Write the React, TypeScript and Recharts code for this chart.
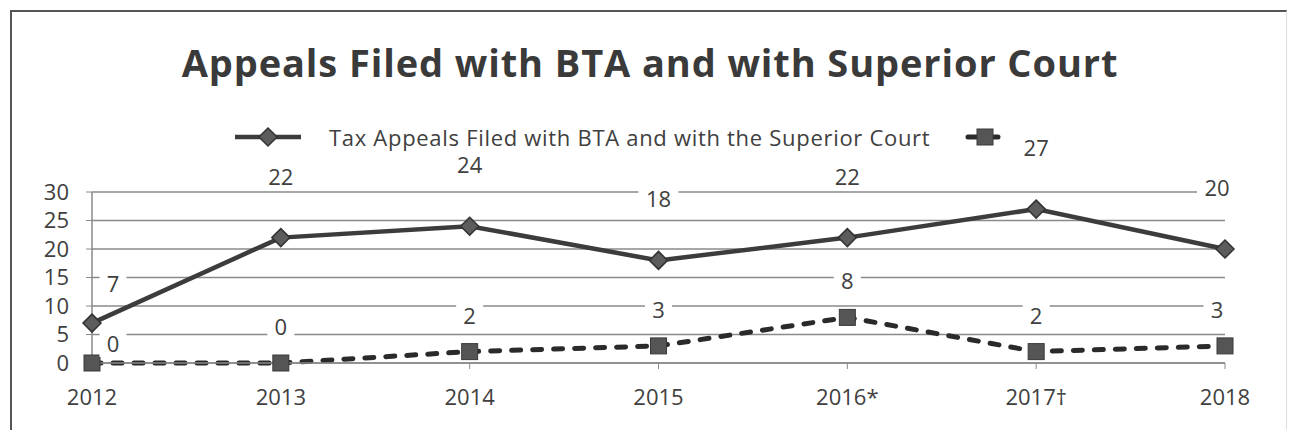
import { CartesianGrid, LabelList, Line, LineChart, XAxis, YAxis } from "recharts";

const years = ["2012", "2013", "2014", "2015", "2016*", "2017†", "2018"];
const btaAppeals = [7, 22, 24, 18, 22, 27, 20];
const superiorCourt = [0, 0, 2, 3, 8, 2, 3];
const yTicks = [0, 5, 10, 15, 20, 25, 30];
const seriesNames = ["Tax Appeals Filed with BTA and with the Superior Court", ""];
const title = "Appeals Filed with BTA and with Superior Court";

const FONT = "'Open Sans', Lato, sans-serif";
const TEXT = "#404040";

const data = years.map((year, i) => ({
  year,
  bta: btaAppeals[i],
  court: superiorCourt[i],
}));

function Diamond(props: any) {
  const { cx, cy, index } = props;
  if (cx == null || cy == null) return <g key={`d-${index}`} />;
  return (
    <path
      key={`d-${index}`}
      d={`M${cx} ${cy - 9}L${cx + 9} ${cy}L${cx} ${cy + 9}L${cx - 9} ${cy}Z`}
      fill="#5c5c5c"
      stroke="#333"
      strokeWidth={1.5}
    />
  );
}

function Square(props: any) {
  const { cx, cy, index } = props;
  if (cx == null || cy == null) return <g key={`s-${index}`} />;
  return (
    <rect key={`s-${index}`} x={cx - 8} y={cy - 8} width={16} height={16} fill="#555" stroke="#3a3a3a" strokeWidth={1} />
  );
}

// white-boxed data label, like Excel's
function makeLabel(offset: number, firstOffset: number) {
  return (props: any) => {
    const { x, y, value, index } = props;
    const first = index === 0;
    const cx = Number(x) + (first ? 21 : index === years.length - 1 ? -8 : 0);
    const cy = Number(y) - (first ? firstOffset : offset);
    const w = String(value).length * 13 + 14;
    return (
      <g>
        <rect x={cx - w / 2} y={cy - 14} width={w} height={28} fill="#fff" />
        <text
          x={cx}
          y={cy}
          textAnchor="middle"
          dominantBaseline="central"
          fontFamily={FONT}
          fontSize={22}
          fill={TEXT}
        >
          {value}
        </text>
      </g>
    );
  };
}

export default function App() {
  return (
    <div
      style={{
        position: "fixed",
        top: 0,
        left: 0,
        width: 1290,
        height: 430,
        background: "#fff",
        fontFamily: FONT,
        overflow: "hidden",
      }}
    >
      <div
        style={{
          position: "absolute",
          left: 10,
          top: 10,
          width: 1274,
          height: 440,
          borderTop: "2px solid #555",
          borderLeft: "2px solid #555",
          borderRight: "1px solid #ddd",
        }}
      />
      <div
        style={{
          position: "absolute",
          top: 38,
          left: 5,
          width: 1290,
          textAlign: "center",
          fontSize: 38,
          fontWeight: 700,
          letterSpacing: 0.9,
          color: "#3a3a3a",
          lineHeight: "48px",
          whiteSpace: "nowrap",
        }}
      >
        {title}
      </div>
      <div
        style={{
          position: "absolute",
          top: 122,
          left: 233,
          height: 30,
          display: "flex",
          alignItems: "center",
          fontSize: 22,
          letterSpacing: 0.7,
          color: TEXT,
          whiteSpace: "nowrap",
        }}
      >
        <svg width={70} height={30}>
          <line x1={2} y1={15} x2={68} y2={15} stroke="#3c3c3c" strokeWidth={4.5} />
          <Diamond cx={35} cy={15} index={0} />
        </svg>
        <span style={{ marginLeft: 26 }}>{seriesNames[0]}</span>
        <svg width={42} height={30} style={{ marginLeft: 34 }}>
          <line
            x1={4}
            y1={15}
            x2={40}
            y2={15}
            stroke="#2a2a2a"
            strokeWidth={5}
            strokeDasharray="9 12"
            strokeLinecap="round"
          />
          <Square cx={21} cy={15} index={0} />
        </svg>
        {seriesNames[1] ? <span>{seriesNames[1]}</span> : null}
      </div>
      <LineChart
        width={1290}
        height={430}
        data={data}
        margin={{ top: 192, right: 65, bottom: 37, left: 10 }}
        style={{ position: "absolute", top: 0, left: 0 }}
      >
        <CartesianGrid vertical={false} stroke="#8a8a8a" strokeWidth={1.5} />
        <XAxis
          dataKey="year"
          height={30}
          axisLine={{ stroke: "#8a8a8a", strokeWidth: 1.5 }}
          tickLine={{ stroke: "#8a8a8a" }}
          tickSize={6}
          tickMargin={20}
          tick={{ fill: TEXT, fontSize: 22, fontFamily: FONT }}
          interval={0}
        />
        <YAxis
          width={82}
          domain={[0, 30]}
          ticks={yTicks}
          interval={0}
          axisLine={{ stroke: "#8a8a8a", strokeWidth: 1.5 }}
          tickLine={{ stroke: "#8a8a8a" }}
          tickSize={6}
          tickMargin={17}
          tick={{ fill: TEXT, fontSize: 22, fontFamily: FONT }}
        />
        <Line
          dataKey="bta"
          name={seriesNames[0]}
          stroke="#3c3c3c"
          strokeWidth={4.5}
          dot={Diamond}
          activeDot={false}
          isAnimationActive={false}
        >
          <LabelList dataKey="bta" content={makeLabel(62, 40)} />
        </Line>
        <Line
          dataKey="court"
          name={seriesNames[1]}
          stroke="#2a2a2a"
          strokeWidth={5}
          strokeDasharray="9 12"
          strokeLinecap="round"
          dot={Square}
          activeDot={false}
          isAnimationActive={false}
        >
          <LabelList dataKey="court" content={makeLabel(37, 20)} />
        </Line>
      </LineChart>
    </div>
  );
}
